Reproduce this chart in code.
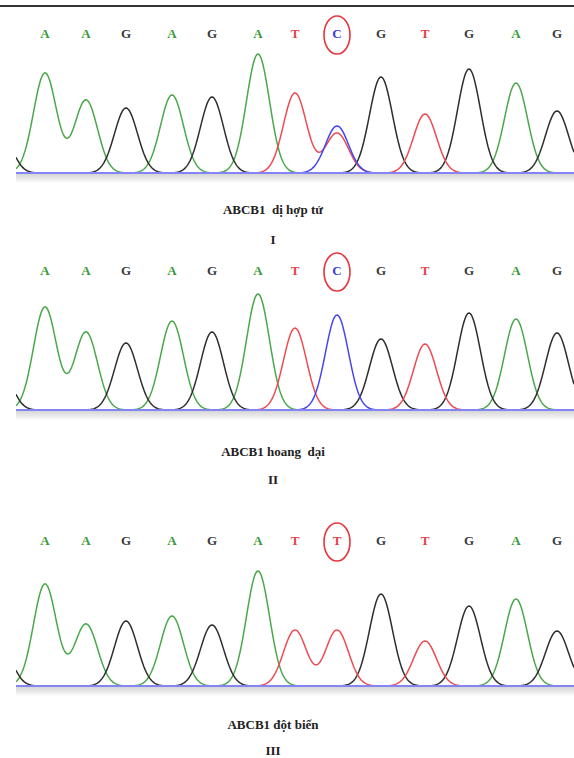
<!DOCTYPE html>
<html>
<head>
<meta charset="utf-8">
<script src="https://cdn.jsdelivr.net/npm/d3@7"></script>
<style>
  body { margin: 0; background: #fff; }
  svg { display: block; }
</style>
</head>
<body>
<div id="chart"></div>
<script>
// base calls printed above each peak
const callsI = ['A', 'A', 'G', 'A', 'G', 'A', 'T', 'C', 'G', 'T', 'G', 'A', 'G']
const callsII = ['A', 'A', 'G', 'A', 'G', 'A', 'T', 'C', 'G', 'T', 'G', 'A', 'G']
const callsIII = ['A', 'A', 'G', 'A', 'G', 'A', 'T', 'T', 'G', 'T', 'G', 'A', 'G']

// peak centres, scan units from the start of the trace
const peakScan = [29, 70, 110, 156, 196, 242, 279, 321, 365, 409, 453, 500, 541]

// peak height of the called base (signal units)
const heightsI = [100, 73, 65, 78, 76, 119, 80, 47, 96, 59, 104, 90, 62]
const heightsII = [103, 78, 67, 89, 78, 116, 82, 95, 71, 66, 97, 91, 77]
const heightsIII = [102, 62, 65, 70, 61, 115, 56, 56, 92, 45, 80, 87, 55]

// minor peak under the heterozygous site: [base, peak index, height]
const minorI = [['T', 7, 40]]

// tail of a peak that is cut off on the left: [base, scan, height]
const leadPeak = ['G', -17, 47]

const titles = ['ABCB1  dị hợp tử', 'ABCB1 hoang  dại', 'ABCB1 đột biến']
const numerals = ['I', 'II', 'III']

const width = 574
const height = 758

const traceColor = { A: '#4aa84a', C: '#4646f0', G: '#2e2e2e', T: '#ee4a52' }
const letterColor = { A: '#3a9a3a', C: '#3a3ad8', G: '#3a3a3a', T: '#e6404a' }

const svg = d3
  .select('#chart')
  .append('svg')
  .attr('width', width)
  .attr('height', height)

const defs = svg.append('defs')

const grad = defs
  .append('linearGradient')
  .attr('id', 'shade')
  .attr('x1', 0)
  .attr('x2', 0)
  .attr('y1', 0)
  .attr('y2', 1)
grad.append('stop').attr('offset', '0%').attr('stop-color', '#d6d6d6')
grad.append('stop').attr('offset', '60%').attr('stop-color', '#ececec')
grad.append('stop').attr('offset', '100%').attr('stop-color', '#ffffff')

defs
  .append('clipPath')
  .attr('id', 'clip')
  .append('rect')
  .attr('x', 16)
  .attr('y', 0)
  .attr('width', width - 16)
  .attr('height', height)

// dark rule at the very top
svg
  .append('line')
  .attr('x1', 0)
  .attr('x2', width)
  .attr('y1', 6)
  .attr('y2', 6)
  .attr('stroke', '#333')
  .attr('stroke-width', 2)

const x = d3
  .scaleLinear()
  .domain([0, 558])
  .range([16, 574])

const sigma = 11.5
const scans = d3.range(0, 559, 1)

const panels = [
  { calls: callsI, heights: heightsI, minor: minorI, base: 173, letterY: 33, title: titles[0], num: numerals[0], titleY: 209, numY: 239 },
  { calls: callsII, heights: heightsII, minor: [], base: 410, letterY: 270, title: titles[1], num: numerals[1], titleY: 451, numY: 479 },
  { calls: callsIII, heights: heightsIII, minor: [], base: 686, letterY: 540, title: titles[2], num: numerals[2], titleY: 724, numY: 750 }
]

panels.forEach(function(p) {
  const y = d3
    .scaleLinear()
    .domain([0, 120])
    .range([p.base, p.base - 120])

  // collect the peaks of each dye
  const peaks = { A: [], C: [], G: [], T: [] }
  p.calls.forEach(function(b, i) {
    peaks[b].push([peakScan[i], p.heights[i]])
  })
  p.minor.forEach(function(m) {
    peaks[m[0]].push([peakScan[m[1]], m[2]])
  })
  peaks[leadPeak[0]].push([leadPeak[1], leadPeak[2]])

  const signal = function(list, s) {
    return d3.sum(list, function(pk) {
      return pk[1] * Math.exp(-((s - pk[0]) * (s - pk[0])) / (2 * sigma * sigma))
    })
  }

  const line = d3
    .line()
    .x(d => x(d[0]))
    .y(d => y(d[1]))

  const g = svg.append('g')

  g.append('rect')
    .attr('x', 16)
    .attr('y', p.base + 1)
    .attr('width', width - 16)
    .attr('height', 9)
    .attr('fill', 'url(#shade)')

  const traces = g.append('g').attr('clip-path', 'url(#clip)')

  ;['A', 'G', 'T', 'C'].forEach(function(b) {
    const pts = scans.map(s => [s, signal(peaks[b], s)])
    traces
      .append('path')
      .datum(pts)
      .attr('d', line)
      .attr('fill', 'none')
      .attr('stroke', traceColor[b])
      .attr('stroke-width', 1.5)
  })

  // zero line of the C dye, lighter
  traces
    .append('line')
    .attr('x1', x(0))
    .attr('x2', x(558))
    .attr('y1', y(0))
    .attr('y2', y(0))
    .attr('stroke', '#8484f4')
    .attr('stroke-width', 2)

  // called bases
  g.selectAll('.call')
    .data(p.calls)
    .enter()
    .append('text')
    .attr('class', 'call')
    .attr('x', (d, i) => x(peakScan[i]))
    .attr('y', p.letterY)
    .attr('dy', '0.35em')
    .attr('text-anchor', 'middle')
    .attr('font-family', 'Liberation Serif, serif')
    .attr('font-weight', 'bold')
    .attr('font-size', 13)
    .attr('fill', d => letterColor[d])
    .text(d => d)

  // ring round the SNP
  g.append('ellipse')
    .attr('cx', x(peakScan[7]))
    .attr('cy', p.letterY + 2)
    .attr('rx', 13)
    .attr('ry', 19)
    .attr('fill', 'none')
    .attr('stroke', '#e8343c')
    .attr('stroke-width', 1.6)

  g.append('text')
    .attr('x', 273)
    .attr('y', p.titleY)
    .attr('dy', '0.35em')
    .attr('text-anchor', 'middle')
    .attr('font-family', 'Liberation Serif, serif')
    .attr('font-weight', 'bold')
    .attr('font-size', 13)
    .attr('fill', '#222')
    .style('white-space', 'pre')
    .text(p.title)

  g.append('text')
    .attr('x', 273)
    .attr('y', p.numY)
    .attr('dy', '0.35em')
    .attr('text-anchor', 'middle')
    .attr('font-family', 'Liberation Serif, serif')
    .attr('font-weight', 'bold')
    .attr('font-size', 13)
    .attr('fill', '#222')
    .text(p.num)
})
</script>
</body>
</html>
